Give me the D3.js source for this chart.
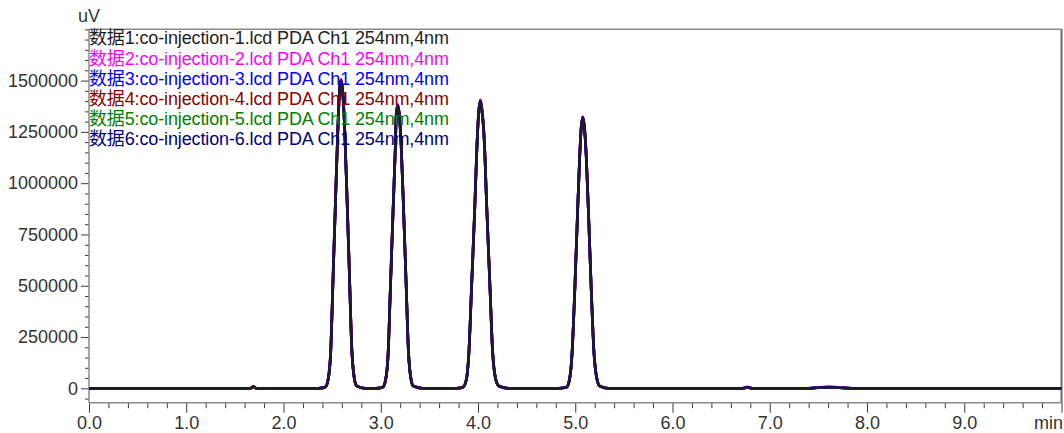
<!DOCTYPE html>
<html>
<head>
<meta charset="utf-8">
<script src="https://cdn.jsdelivr.net/npm/d3@7"></script>
<style>
  html, body { margin: 0; padding: 0; background: #fff; }
  svg { display: block; }
  text { font-family: "Liberation Sans", Arial, "Noto Sans CJK SC", sans-serif; }
</style>
</head>
<body>
<svg id="chart" width="1064" height="433"></svg>
<script>
// ---------- data ----------
const legendLabels = [
  "数据1:co-injection-1.lcd PDA Ch1 254nm,4nm",
  "数据2:co-injection-2.lcd PDA Ch1 254nm,4nm",
  "数据3:co-injection-3.lcd PDA Ch1 254nm,4nm",
  "数据4:co-injection-4.lcd PDA Ch1 254nm,4nm",
  "数据5:co-injection-5.lcd PDA Ch1 254nm,4nm",
  "数据6:co-injection-6.lcd PDA Ch1 254nm,4nm"
];
const seriesColors = ["#1e1e1e", "#ff00ff", "#0000ff", "#8b0000", "#008000", "#000080"];

const xTickValues = [0, 1, 2, 3, 4, 5, 6, 7, 8, 9, 10];
const xTickLabels = ["0.0", "1.0", "2.0", "3.0", "4.0", "5.0", "6.0", "7.0", "8.0", "9.0", "min"];
const yTickValues = [0, 250000, 500000, 750000, 1000000, 1250000, 1500000];
const yUnit = "uV";

// retention time (min), shared by all traces
const time = [
  0, 0.5, 1.0, 1.4, 1.66, 1.69, 1.72, 2.0, 2.3,
  2.36, 2.43, 2.46, 2.485, 2.51, 2.535, 2.56, 2.577, 2.592, 2.607, 2.627, 2.652, 2.677, 2.702, 2.727, 2.752, 2.84,
  2.95, 3.02, 3.05, 3.075, 3.1, 3.125, 3.15, 3.16, 3.175, 3.19, 3.21, 3.235, 3.26, 3.285, 3.31, 3.335, 3.43,
  3.6,
  3.775, 3.845, 3.88, 3.905, 3.935, 3.965, 3.99, 4.01, 4.025, 4.04, 4.065, 4.09, 4.12, 4.15, 4.18, 4.215, 4.31,
  4.5,
  4.83, 4.91, 4.94, 4.965, 4.995, 5.02, 5.045, 5.063, 5.078, 5.093, 5.113, 5.138, 5.163, 5.193, 5.223, 5.253, 5.34,
  5.6, 6.0, 6.5, 6.72, 6.77, 6.82, 7.0, 7.4, 7.5, 7.6, 7.7, 7.85, 8.2, 9.0, 10.0
];

const series1 = [
  0, 0, 0, 0, 0, 8000, 0, 0, 0,
  0, 6000, 45000, 173000, 540000, 915000, 1275000, 1455000, 1500000, 1455000, 1290000, 945000, 570000, 195000, 52000, 12000, 0,
  0, 5500, 41000, 158000, 496000, 841000, 1171000, 1337000, 1378000, 1337000, 1185000, 868000, 524000, 179000, 48000, 11000, 0,
  0,
  0, 5600, 42000, 161000, 504000, 854000, 1190000, 1358000, 1400000, 1358000, 1204000, 882000, 532000, 182000, 49000, 11000, 0,
  0,
  0, 5300, 40000, 152000, 474000, 804000, 1120000, 1278000, 1318000, 1278000, 1133000, 830000, 501000, 171000, 46000, 11000, 0,
  0, 0, 0, 0, 3000, 0, 0, 0, 2000, 3000, 2000, 0, 0, 0, 0
];
const series2 = [
  0, 0, 0, 0, 0, 9000, 0, 0, 0,
  0, 6000, 46000, 175000, 545000, 920000, 1280000, 1462000, 1507000, 1462000, 1296000, 950000, 574000, 197000, 53000, 12000, 0,
  0, 5500, 42000, 160000, 499000, 845000, 1176000, 1343000, 1384000, 1343000, 1190000, 872000, 527000, 181000, 49000, 11000, 0,
  0,
  0, 5700, 43000, 163000, 507000, 858000, 1195000, 1364000, 1406000, 1364000, 1209000, 886000, 535000, 184000, 50000, 11000, 0,
  0,
  0, 5400, 41000, 154000, 477000, 808000, 1125000, 1284000, 1324000, 1284000, 1138000, 834000, 504000, 173000, 47000, 11000, 0,
  0, 0, 0, 0, 7000, 0, 0, 0, 5000, 7000, 5000, 0, 0, 0, 0
];
const series3 = [
  0, 0, 0, 0, 0, 8000, 0, 0, 0,
  0, 6000, 45000, 172000, 538000, 912000, 1272000, 1452000, 1497000, 1452000, 1288000, 943000, 569000, 194000, 52000, 12000, 0,
  0, 5500, 41000, 157000, 494000, 839000, 1168000, 1334000, 1375000, 1334000, 1183000, 866000, 523000, 178000, 48000, 11000, 0,
  0,
  0, 5600, 42000, 160000, 502000, 852000, 1187000, 1355000, 1397000, 1355000, 1201000, 880000, 531000, 181000, 49000, 11000, 0,
  0,
  0, 5300, 40000, 151000, 472000, 802000, 1117000, 1275000, 1315000, 1275000, 1130000, 828000, 500000, 170000, 46000, 11000, 0,
  0, 0, 0, 0, 5000, 0, 0, 0, 4000, 6000, 4000, 0, 0, 0, 0
];
const series4 = [
  0, 0, 0, 0, 0, 8000, 0, 0, 0,
  0, 6000, 45000, 173000, 541000, 916000, 1276000, 1456000, 1501000, 1456000, 1291000, 946000, 571000, 195000, 52000, 12000, 0,
  0, 5500, 41000, 158000, 497000, 842000, 1172000, 1338000, 1379000, 1338000, 1186000, 869000, 525000, 179000, 48000, 11000, 0,
  0,
  0, 5600, 42000, 161000, 505000, 855000, 1191000, 1359000, 1401000, 1359000, 1205000, 883000, 533000, 182000, 49000, 11000, 0,
  0,
  0, 5300, 40000, 152000, 475000, 805000, 1121000, 1279000, 1319000, 1279000, 1134000, 831000, 502000, 171000, 46000, 11000, 0,
  0, 0, 0, 0, 4000, 0, 0, 0, 3000, 4000, 3000, 0, 0, 0, 0
];
const series5 = [
  0, 0, 0, 0, 0, 8000, 0, 0, 0,
  0, 7000, 50000, 185000, 560000, 930000, 1282000, 1458000, 1499000, 1450000, 1280000, 935000, 560000, 188000, 50000, 11000, 0,
  0, 6000, 45000, 168000, 512000, 854000, 1178000, 1339000, 1377000, 1332000, 1178000, 860000, 516000, 174000, 46000, 10000, 0,
  0,
  0, 6000, 46000, 171000, 519000, 866000, 1197000, 1361000, 1399000, 1353000, 1197000, 874000, 524000, 177000, 47000, 10000, 0,
  0,
  0, 5800, 44000, 162000, 489000, 816000, 1127000, 1281000, 1317000, 1273000, 1126000, 822000, 493000, 166000, 44000, 10000, 0,
  0, 0, 0, 0, 4000, 0, 0, 0, 4000, 5000, 4000, 0, 0, 0, 0
];
const series6 = [
  0, 0, 0, 0, 0, 8000, 0, 0, 0,
  0, 6000, 45000, 174000, 542000, 918000, 1278000, 1458000, 1503000, 1458000, 1293000, 947000, 572000, 196000, 53000, 12000, 0,
  0, 5500, 41000, 159000, 498000, 843000, 1174000, 1340000, 1381000, 1340000, 1188000, 870000, 526000, 180000, 48000, 11000, 0,
  0,
  0, 5600, 42000, 162000, 506000, 856000, 1193000, 1361000, 1403000, 1361000, 1206000, 884000, 534000, 183000, 49000, 11000, 0,
  0,
  0, 5300, 40000, 153000, 476000, 806000, 1122000, 1281000, 1321000, 1281000, 1135000, 832000, 503000, 172000, 46000, 11000, 0,
  0, 0, 0, 0, 6000, 0, 0, 0, 4000, 6000, 4000, 0, 0, 0, 0
];
const allSeries = [series1, series2, series3, series4, series5, series6];

// ---------- layout ----------
const svg = d3.select("#chart");
const plot = { left: 89, right: 1061.5, top: 29.3, bottom: 402.7 };
const x = d3.scaleLinear().domain([0, 10]).range([plot.left, plot.right]);
const y = d3.scaleLinear().domain([-70000, 1750000]).range([plot.bottom, plot.top]);
const axisGray = "#8a8a8a";
const tickColor = "#3a3a3a";
const labelColor = "#333";
const fontSize = 18;

// clip
svg.append("defs").append("clipPath").attr("id", "clip")
  .append("rect").attr("x", plot.left).attr("y", plot.top)
  .attr("width", plot.right - plot.left).attr("height", plot.bottom - plot.top);

// minor ticks y
const yMinor = d3.range(-50000, 1750001, 50000).filter(v => !yTickValues.includes(v));
const yMinorAxis = svg.append("g").attr("transform", `translate(${plot.left},0)`)
  .call(d3.axisLeft(y).tickValues(yMinor).tickSize(4).tickFormat(""));
yMinorAxis.select(".domain").remove();
yMinorAxis.selectAll("line").attr("stroke", tickColor);

// minor ticks x
const xMinor = d3.range(0, 10.001, 0.2).filter(v => Math.abs(v - Math.round(v)) > 1e-6);
const xMinorAxis = svg.append("g").attr("transform", `translate(0,${plot.bottom})`)
  .call(d3.axisBottom(x).tickValues(xMinor).tickSize(5.5).tickFormat(""));
xMinorAxis.select(".domain").remove();
xMinorAxis.selectAll("line").attr("stroke", tickColor);

// major y axis
const yAxis = svg.append("g").attr("transform", `translate(${plot.left},0)`)
  .call(d3.axisLeft(y).tickValues(yTickValues).tickSize(8).tickPadding(3).tickFormat(d3.format("d")));
yAxis.select(".domain").remove();
yAxis.selectAll("line").attr("stroke", tickColor);
yAxis.selectAll("text").attr("fill", labelColor).style("font-size", fontSize + "px")
  .style("font-family", '"Liberation Sans", Arial, sans-serif');

// major x axis
const xAxis = svg.append("g").attr("transform", `translate(0,${plot.bottom})`)
  .call(d3.axisBottom(x).tickValues(xTickValues).tickSize(10).tickPadding(4)
    .tickFormat((d, i) => xTickLabels[i]));
xAxis.select(".domain").remove();
xAxis.selectAll("line").attr("stroke", tickColor);
xAxis.selectAll("text").attr("fill", labelColor).style("font-size", fontSize + "px")
  .style("font-family", '"Liberation Sans", Arial, sans-serif');
xAxis.selectAll("text").filter((d, i) => i === xTickValues.length - 1).attr("text-anchor", "end").attr("x", 1);

// frame lines
svg.append("line").attr("x1", plot.left).attr("x2", plot.left).attr("y1", plot.top).attr("y2", plot.bottom)
  .attr("stroke", axisGray).attr("stroke-width", 1.5);
svg.append("line").attr("x1", plot.left).attr("x2", plot.right).attr("y1", plot.bottom).attr("y2", plot.bottom)
  .attr("stroke", axisGray).attr("stroke-width", 1.5);
svg.append("line").attr("x1", plot.left).attr("x2", plot.right).attr("y1", plot.top).attr("y2", plot.top)
  .attr("stroke", axisGray).attr("stroke-width", 1.5);
svg.append("line").attr("x1", plot.right).attr("x2", plot.right).attr("y1", plot.top).attr("y2", plot.bottom)
  .attr("stroke", "#6a6a6a").attr("stroke-width", 2);

// unit label
svg.append("text").attr("x", plot.left).attr("y", 22).attr("text-anchor", "middle")
  .attr("fill", labelColor).style("font-size", fontSize + "px").text(yUnit);

// traces
const line = d3.line().x((d, i) => x(time[i])).y(d => y(d)).curve(d3.curveMonotoneX);
const drawOrder = [4, 3, 2, 1, 5, 0];
const traces = svg.append("g").attr("clip-path", "url(#clip)");
drawOrder.forEach(k => {
  traces.append("path").datum(allSeries[k]).attr("d", line)
    .attr("fill", "none").attr("stroke", seriesColors[k])
    .attr("stroke-width", k === 0 ? 2.3 : 2.7).attr("stroke-linejoin", "round");
});

// legend
const legend = svg.append("g");
legendLabels.forEach((t, i) => {
  legend.append("text").attr("x", plot.left).attr("y", 38 + i * 20.2).attr("dy", "0.35em")
    .attr("fill", seriesColors[i]).style("font-size", fontSize + "px")
    .attr("textLength", 360).attr("lengthAdjust", "spacing").text(t);
});
</script>
</body>
</html>
